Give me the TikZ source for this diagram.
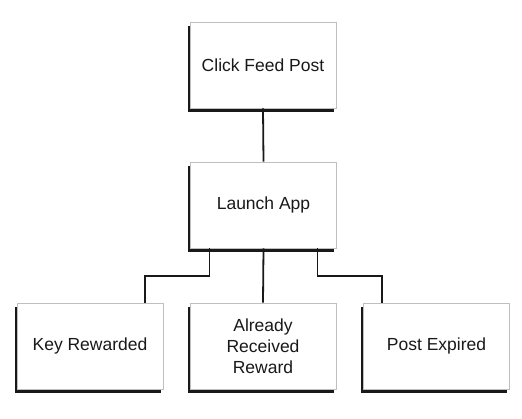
\documentclass[tikz,border=0pt]{standalone}
\usepackage{fontspec}
\setmainfont{Liberation Sans}
\usetikzlibrary{shadows}
\begin{document}
\begin{tikzpicture}[x=1pt,y=-1pt,
  box/.style={draw=black!25, line width=0.6pt, fill=white, minimum width=146pt, minimum height=86pt,
    inner sep=2pt, align=center, font=\fontsize{17.5}{21}\selectfont, text=black!90,
    drop shadow={shadow xshift=-2.5pt, shadow yshift=-4.5pt, fill=black!90, opacity=1}},
  link/.style={draw=black!90, line width=1.8pt}]
\useasboundingbox (0,0) rectangle (522,419);
\node[box] (cf) at (263,65) {Click Feed Post};
\node[box] (la) at (263.5,205) {Launch App};
\node[box] (kr) at (90,346) {Key Rewarded};
\node[box] (ar) at (263,346) {Already\\Received\\Reward};
\node[box] (pe) at (436.5,346) {Post Expired};
\draw[link] (cf.south) -- (la.north);
\draw[link] ([xshift=-54pt]la.south) -- ++(0,28) -| ([xshift=55pt]kr.north);
\draw[link] (la.south) -- (ar.north);
\draw[link] ([xshift=54pt]la.south) -- ++(0,28) -| ([xshift=-54.5pt]pe.north);
\end{tikzpicture}
\end{document}
